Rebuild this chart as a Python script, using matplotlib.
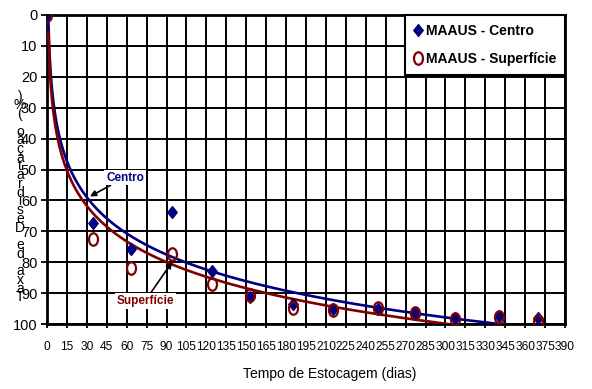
import numpy as np
import matplotlib
matplotlib.use("Agg")
import matplotlib.pyplot as plt
from matplotlib import font_manager
from matplotlib.path import Path
from matplotlib.transforms import Affine2D

# data
dias = [0, 35, 63, 94, 124, 153, 185, 215, 249, 277, 307, 340, 370]
centro = [0, 67.3, 75.8, 63.8, 82.8, 91.2, 93.5, 95.3, 95.2, 96.6, 98.2, 97.4, 98.2]
superficie = [0, 72.6, 82.0, 77.2, 86.9, 90.6, 94.9, 95.5, 94.9, 96.4, 98.5, 97.6, 98.9]
x_ticks = np.arange(0, 391, 15)
y_ticks = np.arange(0, 101, 10)
y_label = "Taxa de Desidratação (%)"
x_label = "Tempo de Estocagem (dias)"

names = {f.name for f in font_manager.fontManager.ttflist}
fam = "Liberation Sans Narrow" if "Liberation Sans Narrow" in names else "Liberation Sans"
plt.rcParams["font.family"] = [fam, "DejaVu Sans"]

navy = "#000080"
maroon = "#800000"

# excel-like squashed markers
diamond = Path([(0, 1), (0.8, 0), (0, -1), (-0.8, 0), (0, 1)], closed=True)
ellipse = Path.unit_circle().transformed(Affine2D().scale(0.72, 1))

fig = plt.figure(figsize=(5.92, 3.89), dpi=100)
ax = fig.add_axes([47 / 592, 1 - 324 / 389, (565 - 47) / 592, (324 - 15) / 389])

ax.set_xlim(0, 390)
ax.set_ylim(100, 0)
ax.set_xticks(x_ticks)
ax.set_yticks(y_ticks)
ax.grid(True, color="black", lw=1.4)
ax.set_axisbelow(True)

# logarithmic trend lines (fit on the data, first day taken as 1)
lx = np.log(np.maximum(dias, 1))
xs = np.linspace(1, max(dias), 400)
for vals, col in [(centro, navy), (superficie, maroon)]:
    a, b = np.polyfit(lx, vals, 1)
    ax.plot(xs, a * np.log(xs) + b, color=col, lw=1.9, zorder=3)

ax.plot(dias, centro, ls="none", marker=diamond, ms=8.5, color=navy,
        label="MAAUS - Centro", zorder=4)
ax.plot(dias, superficie, ls="none", marker=ellipse, ms=9, mfc="none",
        mec=maroon, mew=1.6, label="MAAUS - Superfície", zorder=4)

for s in ax.spines.values():
    s.set_linewidth(2)
    s.set_color("black")

ax.tick_params(axis="y", direction="out", length=4, width=1.3, labelsize=10.5, pad=3)
ax.tick_params(axis="x", direction="inout", length=6, width=1.3, labelsize=8.6, pad=9)

leg = ax.legend(loc="upper right", bbox_to_anchor=(1, 1), borderaxespad=0,
                frameon=True, fancybox=False, edgecolor="black", framealpha=1,
                prop={"weight": "bold", "size": 10}, handlelength=0.6,
                handletextpad=0.25, labelspacing=1.0, borderpad=0.65)
leg.get_frame().set_linewidth(1.5)
leg.set_zorder(6)

box = dict(boxstyle="square,pad=0.15", fc="white", ec="none")
ax.annotate("Centro", xy=(32.4, 58.7), xytext=(58.7, 52.6), ha="center", va="center",
            color=navy, fontsize=8.5, fontweight="bold", bbox=box, zorder=5,
            arrowprops=dict(arrowstyle="-|>", color="black", lw=1.2, shrinkA=0, shrinkB=0))
ax.annotate("Superfície", xy=(94.1, 80), xytext=(73.8, 92.6), ha="center", va="center",
            color=maroon, fontsize=8.5, fontweight="bold", bbox=box, zorder=5,
            arrowprops=dict(arrowstyle="-|>", color="black", lw=1.2, shrinkA=0, shrinkB=0))

# y label stacked letter by letter, as in the original
fig.text(20 / 592, 1 - 197 / 389, "\n".join(reversed(y_label)), ha="center", va="center",
         fontsize=10, linespacing=0.52, multialignment="center")
fig.text(330 / 592, 1 - 374 / 389, x_label, ha="center", va="center", fontsize=10)

fig.savefig("out.png", dpi=100)
